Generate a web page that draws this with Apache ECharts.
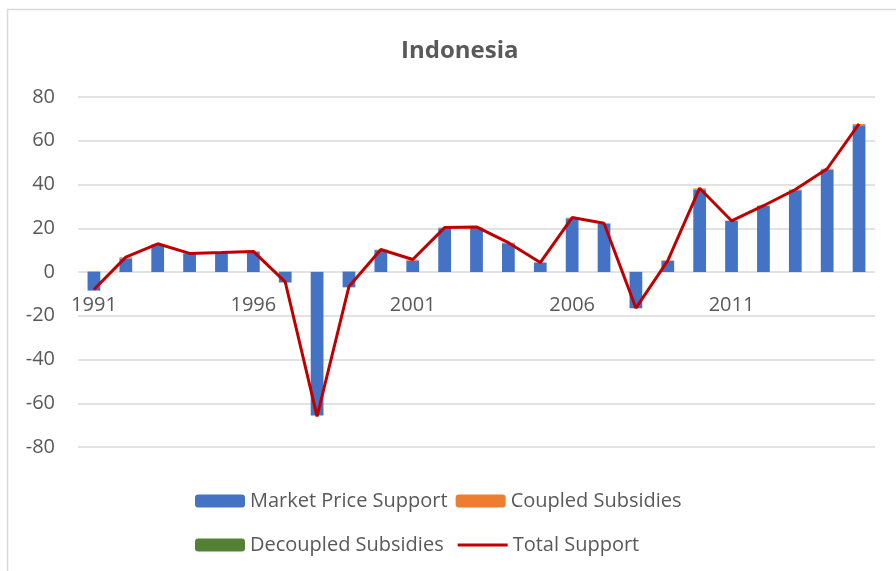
<!DOCTYPE html>
<html>
<head>
<meta charset="utf-8">
<script src="https://cdn.jsdelivr.net/npm/echarts@6/dist/echarts.min.js"></script>
<style>
  html, body { margin: 0; padding: 0; background: #fff; }
  #chart { width: 896px; height: 571px; }
</style>
</head>
<body>
<div id="chart"></div>
<script>
// years 1991 - 2015
const years = ['1991', '1992', '1993', '1994', '1995', '1996', '1997', '1998', '1999', '2000',
  '2001', '2002', '2003', '2004', '2005', '2006', '2007', '2008', '2009', '2010',
  '2011', '2012', '2013', '2014', '2015']
const marketPriceSupport = [-8.5, 6.2, 12.3, 8.5, 8.8, 9.2, -4.8, -65.6, -7.0, 10.0,
  5.2, 20.0, 20.0, 13.1, 4.3, 24.5, 22.0, -16.6, 5.1, 37.7,
  23.4, 30.2, 37.4, 46.8, 67.1]
const coupledSubsidies = [0.3, 0.5, 0.4, 0.1, 0.1, 0.2, 0.2, 0.1, 0.3, 0.2,
  0.4, 0.3, 0.4, 0.3, 0.1, 0.3, 0.3, 0.1, 0.2, 0.5,
  0.1, 0.2, 0.3, 0.4, 0.5]
const decoupledSubsidies = [0, 0, 0, 0, 0, 0, 0, 0, 0, 0,
  0, 0, 0, 0, 0, 0, 0, 0, 0, 0,
  0, 0, 0, 0, 0]
const totalSupport = [-8.0, 6.8, 12.9, 8.5, 8.9, 9.4, -4.5, -66.0, -6.6, 10.3,
  5.7, 20.3, 20.6, 13.4, 4.3, 24.9, 22.3, -16.5, 5.2, 38.3,
  23.4, 30.3, 37.7, 47.2, 67.7]

const txt = '#595959'
const font = 'Open Sans'

const chart = echarts.init(document.getElementById('chart'))
const option = {
  animation: false,
  title: {
    text: 'Indonesia',
    left: 396,
    top: 34,
    textStyle: { color: txt, fontSize: 24, fontWeight: 'bold', fontFamily: font }
  },
  graphic: [{
    type: 'rect',
    shape: { x: 7.5, y: 9.5, width: 1000, height: 1000 },
    style: { fill: 'none', stroke: '#d9d9d9', lineWidth: 1.5 },
    silent: true
  }],
  legend: [
    {
      data: ['Market Price Support', 'Coupled Subsidies'],
      left: 190,
      top: 486,
      itemWidth: 50,
      itemHeight: 13,
      itemGap: 8,
      textStyle: { color: txt, fontSize: 20, fontFamily: font }
    },
    {
      data: ['Decoupled Subsidies', { name: 'Total Support', icon: 'path://M0 0H50V3H0Z' }],
      left: 190,
      top: 530,
      itemWidth: 50,
      itemHeight: 13,
      itemGap: 14,
      textStyle: { color: txt, fontSize: 20, fontFamily: font }
    }
  ],
  grid: { left: 78, right: 21, top: 97, bottom: 124, containLabel: false },
  xAxis: {
    type: 'category',
    data: years,
    axisLine: { show: false },
    axisTick: { show: false },
    // labels sit just under the zero line, as in the original
    axisLabel: { interval: 4, color: txt, fontSize: 20, fontFamily: font, margin: -152 }
  },
  yAxis: {
    type: 'value',
    min: -80,
    max: 80,
    interval: 20,
    axisLine: { show: false },
    axisTick: { show: false },
    splitLine: { lineStyle: { color: '#d9d9d9', width: 1.5 } },
    axisLabel: { color: txt, fontSize: 20, fontFamily: font, margin: 23 }
  },
  series: [
    {
      name: 'Market Price Support',
      type: 'bar',
      stack: 'support',
      barWidth: '40%',
      itemStyle: { color: '#4472c4' },
      data: marketPriceSupport
    },
    {
      name: 'Coupled Subsidies',
      type: 'bar',
      stack: 'support',
      itemStyle: { color: '#ed7d31' },
      data: coupledSubsidies
    },
    {
      name: 'Decoupled Subsidies',
      type: 'bar',
      stack: 'support',
      itemStyle: { color: '#548235' },
      data: decoupledSubsidies
    },
    {
      name: 'Total Support',
      type: 'line',
      symbol: 'none',
      lineStyle: { color: '#c00000', width: 3 },
      itemStyle: { color: '#c00000' },
      data: totalSupport
    }
  ]
}
chart.setOption(option)
</script>
</body>
</html>
